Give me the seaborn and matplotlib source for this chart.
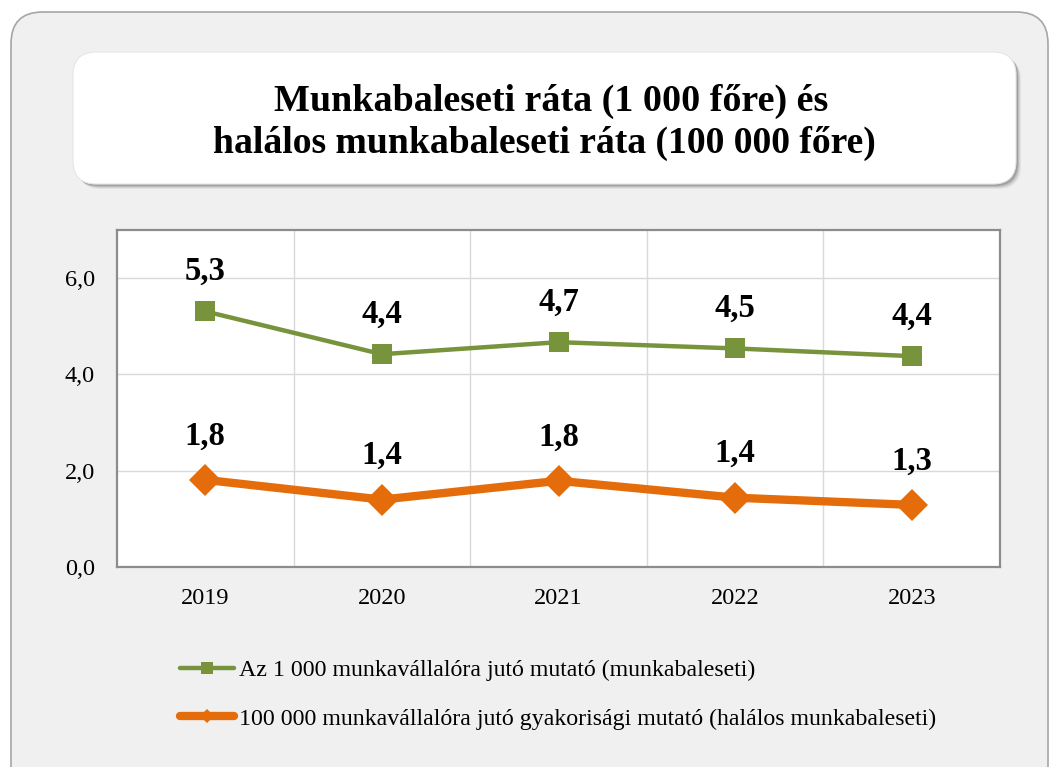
import matplotlib
matplotlib.use("Agg")
import matplotlib.pyplot as plt
from matplotlib.patches import FancyBboxPatch
from matplotlib.lines import Line2D
import seaborn as sns
import pandas as pd

years = ["2019", "2020", "2021", "2022", "2023"]
rate_1000 = [5.31, 4.42, 4.67, 4.54, 4.38]
rate_100000 = [1.81, 1.40, 1.79, 1.44, 1.29]
series_names = [
    "Az 1 000 munkavállalóra jutó mutató (munkabaleseti)",
    "100 000 munkavállalóra jutó gyakorisági mutató (halálos munkabaleseti)",
]
title_lines = ["Munkabaleseti ráta (1 000 főre) és",
               "halálos munkabaleseti ráta (100 000 főre)"]
y_ticks = [0, 2, 4, 6]

GREEN = "#77933C"
ORANGE = "#E46C0A"
SERIF = ["Liberation Serif", "DejaVu Serif"]

sns.set_theme(style="white")
plt.rcParams["font.family"] = SERIF

W, H = 1055, 767
fig = plt.figure(figsize=(W / 100, H / 100), dpi=100)
fig.patch.set_facecolor("white")

def fx(px):
    return px / W

def fy(py):
    return 1 - py / H

# outer rounded panel
outer = FancyBboxPatch((fx(11), fy(800)), fx(1048 - 11), (800 - 12) / H,
                       boxstyle="round,pad=0,rounding_size=0.03",
                       transform=fig.transFigure, facecolor="#f0f0f0",
                       edgecolor="#a6a6a6", linewidth=1.2, zorder=0,
                       mutation_aspect=W / H)
fig.patches.append(outer)

# title box shadow
for i, a in enumerate([0.05, 0.07, 0.10, 0.14]):
    off = 5 - i
    sh = FancyBboxPatch((fx(73 + off), fy(184 + off)), fx(1016 - 73), (184 - 52) / H,
                        boxstyle="round,pad=0,rounding_size=0.022",
                        transform=fig.transFigure, facecolor="black", alpha=a,
                        edgecolor="none", zorder=1, mutation_aspect=W / H)
    fig.patches.append(sh)
tbox = FancyBboxPatch((fx(73), fy(184)), fx(1016 - 73), (184 - 52) / H,
                      boxstyle="round,pad=0,rounding_size=0.022",
                      transform=fig.transFigure, facecolor="white",
                      edgecolor="#e6e6e6", linewidth=0.8, zorder=2,
                      mutation_aspect=W / H)
fig.patches.append(tbox)
fig.text(fx(551), fy(101), title_lines[0], ha="center", va="center",
         fontsize=27.4, fontweight="bold", color="black", zorder=3)
fig.text(fx(544), fy(143), title_lines[1], ha="center", va="center",
         fontsize=27.1, fontweight="bold", color="black", zorder=3)

# plot area
ax = fig.add_axes([fx(117), fy(567), fx(1000 - 117), (567 - 230) / H])
ax.set_facecolor("white")
ax.set_zorder(3)

df = pd.DataFrame({"year": years, "a": rate_1000, "b": rate_100000})
x = list(range(len(years)))
sns.lineplot(x=x, y=df["a"], ax=ax, color=GREEN, linewidth=3.2,
             marker="s", markersize=14.5, markeredgewidth=0, zorder=4)
sns.lineplot(x=x, y=df["b"], ax=ax, color=ORANGE, linewidth=6,
             marker="D", markersize=16.5, markeredgewidth=0, zorder=4)

for xi, v in zip(x, rate_1000):
    ax.annotate(f"{v:.1f}".replace(".", ","), (xi, v), xytext=(0, 40),
                textcoords="offset pixels", ha="center", va="center",
                fontsize=23.5, fontweight="bold", color="black")
for xi, v in zip(x, rate_100000):
    ax.annotate(f"{v:.1f}".replace(".", ","), (xi, v), xytext=(0, 44),
                textcoords="offset pixels", ha="center", va="center",
                fontsize=23.5, fontweight="bold", color="black")

ax.set_xlim(-0.5, len(years) - 0.5)
ax.set_ylim(0, 7)
ax.set_xticks(x)
ax.set_xticklabels(years)
ax.set_xticks([i + 0.5 for i in range(len(years) - 1)], minor=True)
ax.set_yticks(y_ticks)
ax.set_yticklabels([f"{t:.1f}".replace(".", ",") for t in y_ticks])
ax.grid(True, which="major", axis="y", color="#d9d9d9", linewidth=1)
ax.grid(True, which="minor", axis="x", color="#d9d9d9", linewidth=1)
ax.grid(False, which="major", axis="x")
ax.tick_params(axis="both", which="both", length=0)
ax.tick_params(axis="y", pad=16, labelsize=17.5, labelcolor="black")
ax.tick_params(axis="x", pad=15, labelsize=17.5, labelcolor="black")
ax.set_xlabel("")
ax.set_ylabel("")
for s in ax.spines.values():
    s.set_visible(True)
    s.set_color("#8c8c8c")
    s.set_linewidth(1.6)
ax.set_axisbelow(True)

handles = [
    Line2D([0], [0], color=GREEN, linewidth=3.2, marker="s", markersize=9,
           markeredgewidth=0, solid_capstyle="round"),
    Line2D([0], [0], color=ORANGE, linewidth=6, marker="D", markersize=7,
           markeredgewidth=0, solid_capstyle="round"),
]
leg = fig.legend(handles, series_names, loc="upper left",
                 bbox_to_anchor=(fx(170), fy(650)), frameon=False,
                 fontsize=17.2, handlelength=2.3, handletextpad=0.2,
                 labelspacing=1.12, borderaxespad=0)
for t in leg.get_texts():
    t.set_color("black")

fig.savefig("out.png", dpi=100, facecolor=fig.get_facecolor())
